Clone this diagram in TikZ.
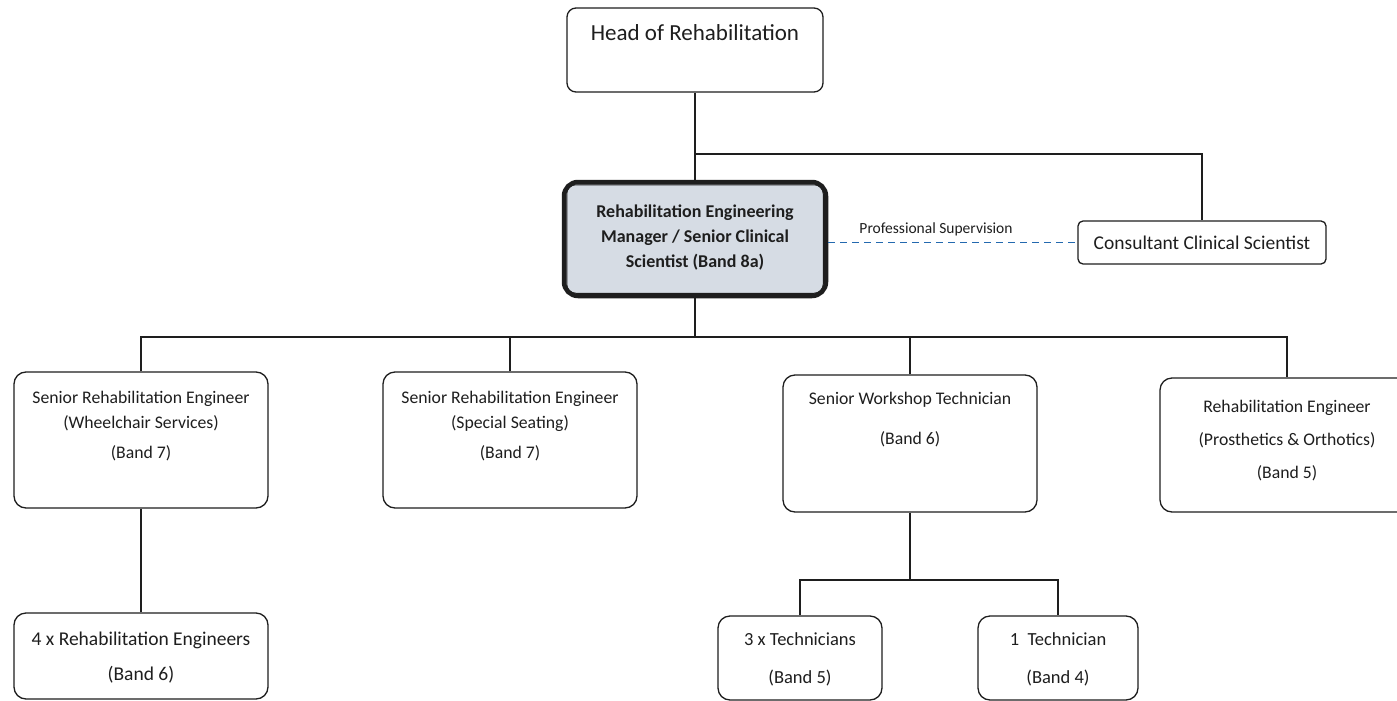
\documentclass[tikz,border=0pt]{standalone}
\usepackage{fontspec}
\setmainfont{Carlito}
\definecolor{ink}{RGB}{30,30,30}
\definecolor{mgrfill}{RGB}{214,220,228}
\definecolor{supblue}{RGB}{35,105,175}
\begin{document}
\begin{tikzpicture}[x=1pt,y=-1pt,
  box/.style={draw=ink, line width=1.3pt, rounded corners=12pt, fill=white, inner sep=0pt},
  txt/.style={align=center, inner sep=0pt, text=ink},
  conn/.style={draw=ink, line width=1.3pt},
  sup/.style={draw=supblue, line width=1.8pt, dash pattern=on 7pt off 5pt}]
\clip (0,0) rectangle (1397,701);
\fill[white] (0,0) rectangle (1397,701);

% boxes
\node[box, rounded corners=9pt, minimum width=256pt, minimum height=84pt] (head) at (695,50) {};
\node[box, line width=4.5pt, rounded corners=14pt, fill=mgrfill, minimum width=262pt, minimum height=114pt] (mgr) at (695,239) {};
\draw[ink, line width=1pt, rounded corners=9pt] ([shift={(5,5)}]mgr.north west) rectangle ([shift={(-5,-5)}]mgr.south east);
\node[box, rounded corners=5pt, minimum width=248pt, minimum height=43pt] (cons) at (1202,242.5) {};

\node[box, minimum width=254pt, minimum height=136pt] (b1) at (141,440) {};
\node[box, minimum width=254pt, minimum height=136pt] (b2) at (510,440) {};
\node[box, minimum width=254pt, minimum height=137pt] (b3) at (910,443.5) {};
\node[box, minimum width=254pt, minimum height=134pt] (b4) at (1287,445) {};

\node[box, minimum width=254pt, minimum height=86pt] (r4) at (141,656) {};
\node[box, minimum width=164pt, minimum height=84pt] (t3) at (800,658) {};
\node[box, minimum width=160pt, minimum height=84pt] (t1) at (1058,658) {};

% texts
\node[txt, font=\fontsize{23}{28}\selectfont] (headt) at (695,33) {Head of Rehabilitation};
\node[txt, font=\fontsize{18}{25}\selectfont\bfseries] (mgrt) at (695,238) {Rehabilitation Engineering\\Manager / Senior Clinical\\Scientist (Band 8a)};
\node[txt, font=\fontsize{19.5}{24}\selectfont] (const) at (1202,243) {Consultant Clinical Scientist};
\node[txt, font=\fontsize{15.5}{18}\selectfont] (supt) at (936,229) {Professional Supervision};

\node[txt, font=\fontsize{17.7}{25}\selectfont] (b1t) at (141,426.5) {Senior Rehabilitation Engineer\\(Wheelchair Services)\\[5pt](Band 7)};
\node[txt, font=\fontsize{17.7}{25}\selectfont] (b2t) at (510,426.5) {Senior Rehabilitation Engineer\\(Special Seating)\\[5pt](Band 7)};
\node[txt, font=\fontsize{17.7}{25}\selectfont] (b3t) at (910,420) {Senior Workshop Technician\\[15pt](Band 6)};
\node[txt, font=\fontsize{17.7}{33}\selectfont] (b4t) at (1287,441) {Rehabilitation Engineer\\(Prosthetics \& Orthotics)\\(Band 5)};

\node[txt, font=\fontsize{19.5}{35}\selectfont] (r4t) at (141,657.5) {4 x Rehabilitation Engineers\\(Band 6)};
\node[txt, font=\fontsize{18.5}{38}\selectfont] (t3t) at (800,659) {3 x Technicians\\(Band 5)};
\node[txt, font=\fontsize{18.5}{38}\selectfont] (t1t) at (1058,659) {1\ \ Technician\\(Band 4)};

% connectors
\coordinate (br) at (695,154);
\coordinate (bus) at (695,337);
\coordinate (tb) at (910,580);
\draw[conn] (head.south) -- (mgr.north);
\draw[conn] (br) -| (cons.north);
\draw[sup] (mgr.east |- cons.west) -- (cons.west);
\draw[conn] (mgr.south) -- (bus);
\draw[conn] (b1.north) |- (bus) -| (b4.north);
\draw[conn] (b2.north) -- (b2.north |- bus);
\draw[conn] (b3.north) -- (b3.north |- bus);
\draw[conn] (b1.south) -- (r4.north);
\draw[conn] (b3.south) -- (tb);
\draw[conn] (t3.north) |- (tb) -| (t1.north);
\end{tikzpicture}
\end{document}
